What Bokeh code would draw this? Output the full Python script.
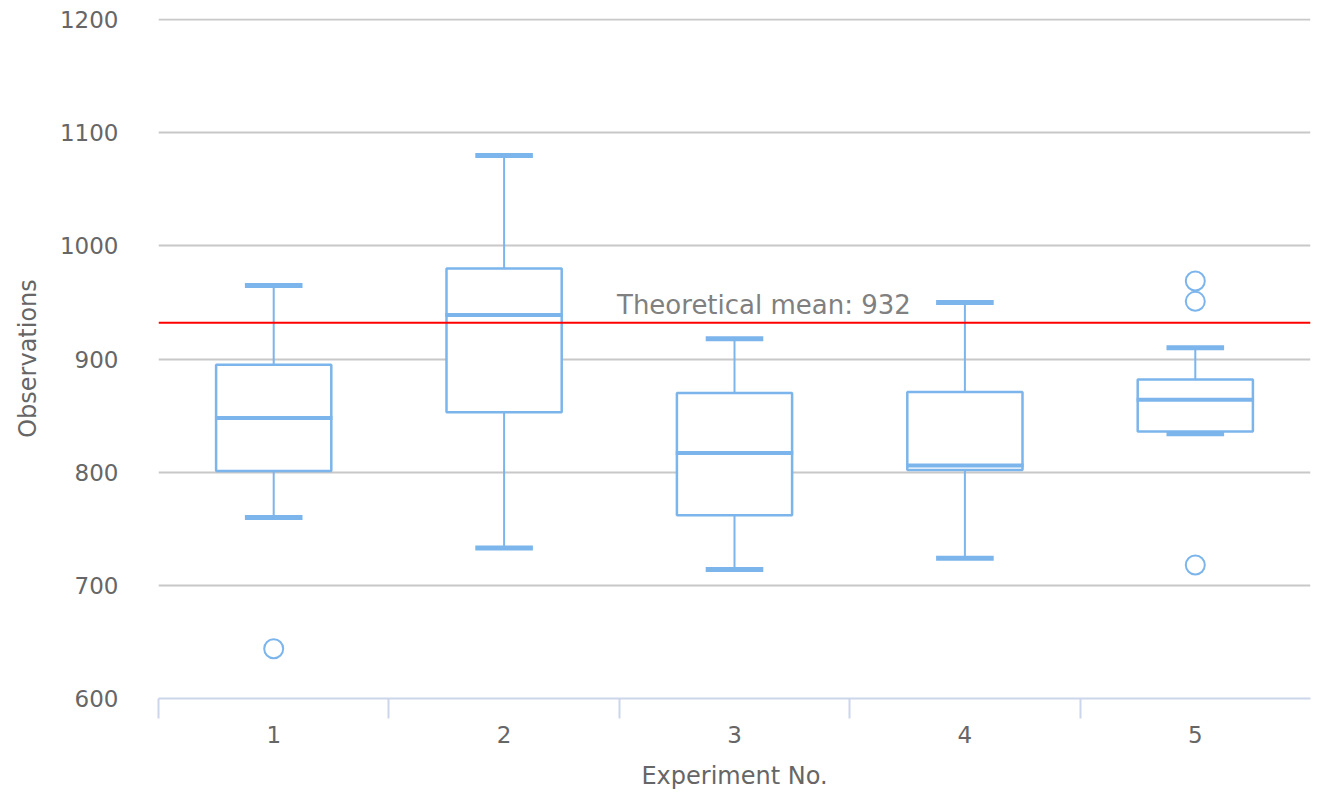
from bokeh.plotting import figure
from bokeh.models import Span, Label, FixedTicker, ColumnDataSource
from bokeh.transform import dodge
from bokeh.embed import file_html
from bokeh.resources import INLINE

categories = ["1", "2", "3", "4", "5"]
low = [760, 733, 714, 724, 834]
q1 = [801, 853, 762, 802, 836]
median = [848, 939, 817, 806, 864]
q3 = [895, 980, 870, 871, 882]
high = [965, 1080, 918, 950, 910]
outlier_cat = [0, 4, 4, 4]
outlier_val = [644, 718, 951, 969]
theoretical_mean = 932
y_ticks = [600, 700, 800, 900, 1000, 1100, 1200]

FONT = "DejaVu Sans"
BLUE = "#7cb5ec"
TXT = "#666666"

xs = list(range(len(categories)))
src = ColumnDataSource(dict(x=xs, low=low, q1=q1, med=median, q3=q3, high=high,
                            mid=[(a + b) / 2 for a, b in zip(q1, q3)],
                            h=[b - a for a, b in zip(q1, q3)]))

p = figure(width=1318, height=796, output_backend="svg", toolbar_location=None,
           x_range=(-0.5, 4.5), y_range=(600, 1201),
           min_border_left=158, min_border_right=8, min_border_top=18, min_border_bottom=98)
p.outline_line_color = None
p.background_fill_color = "white"

# grid
p.xgrid.grid_line_color = None
p.ygrid.grid_line_color = "#c8c8c8"
p.ygrid.grid_line_width = 2
p.ygrid.ticker = FixedTicker(ticks=y_ticks)

# y axis
p.yaxis.ticker = FixedTicker(ticks=y_ticks)
p.yaxis.axis_line_color = None
p.yaxis.major_tick_line_color = None
p.yaxis.minor_tick_line_color = None
p.yaxis.major_label_text_font = FONT
p.yaxis.major_label_text_font_size = "23px"
p.yaxis.major_label_text_color = TXT
p.yaxis.major_label_standoff = 34
p.yaxis.axis_label = "Observations"
p.yaxis.axis_label_text_font = FONT
p.yaxis.axis_label_text_font_size = "24px"
p.yaxis.axis_label_text_font_style = "normal"
p.yaxis.axis_label_text_color = TXT
p.yaxis.axis_label_standoff = 15

# x axis
p.xaxis.ticker = FixedTicker(ticks=xs, minor_ticks=[i - 0.5 for i in xs])
p.xaxis.major_label_overrides = {i: c for i, c in zip(xs, categories)}
p.xaxis.axis_line_color = "#ccd6eb"
p.xaxis.axis_line_width = 2
p.xaxis.major_tick_line_color = None
p.xaxis.minor_tick_line_color = "#ccd6eb"
p.xaxis.minor_tick_line_width = 2
p.xaxis.minor_tick_out = 20
p.xaxis.minor_tick_in = 0
p.xaxis.major_tick_out = 0
p.xaxis.major_tick_in = 0
p.xaxis.major_label_standoff = 7
p.xaxis.major_label_text_font = FONT
p.xaxis.major_label_text_font_size = "23px"
p.xaxis.major_label_text_color = TXT
p.xaxis.axis_label = "Experiment No."
p.xaxis.axis_label_text_font = FONT
p.xaxis.axis_label_text_font_size = "24px"
p.xaxis.axis_label_text_font_style = "normal"
p.xaxis.axis_label_text_color = TXT
p.xaxis.axis_label_standoff = 16

# whiskers
p.segment(x0="x", x1="x", y0="q3", y1="high", source=src, line_color=BLUE, line_width=2)
p.segment(x0="x", x1="x", y0="low", y1="q1", source=src, line_color=BLUE, line_width=2)
p.segment(x0=dodge("x", -0.125), x1=dodge("x", 0.125), y0="high", y1="high", source=src,
          line_color=BLUE, line_width=5)
p.segment(x0=dodge("x", -0.125), x1=dodge("x", 0.125), y0="low", y1="low", source=src,
          line_color=BLUE, line_width=5)
# boxes
p.rect(x="x", y="mid", width=0.5, height="h", source=src, fill_color="white",
       line_color=BLUE, line_width=2.5)
# medians
p.segment(x0=dodge("x", -0.255), x1=dodge("x", 0.255), y0="med", y1="med", source=src,
          line_color=BLUE, line_width=4)

# outliers
p.scatter(x=outlier_cat, y=outlier_val, size=19, marker="circle", fill_color="white",
          line_color=BLUE, line_width=2)

# theoretical mean
p.add_layout(Span(location=theoretical_mean, dimension="width", line_color="red", line_width=2))
p.add_layout(Label(x=1.49, y=theoretical_mean, y_offset=18, text=f"Theoretical mean: {theoretical_mean}",
                   text_font=FONT, text_font_size="26px", text_color="gray",
                   text_align="left", text_baseline="alphabetic"))

open("out.html", "w").write(file_html(p, INLINE))
